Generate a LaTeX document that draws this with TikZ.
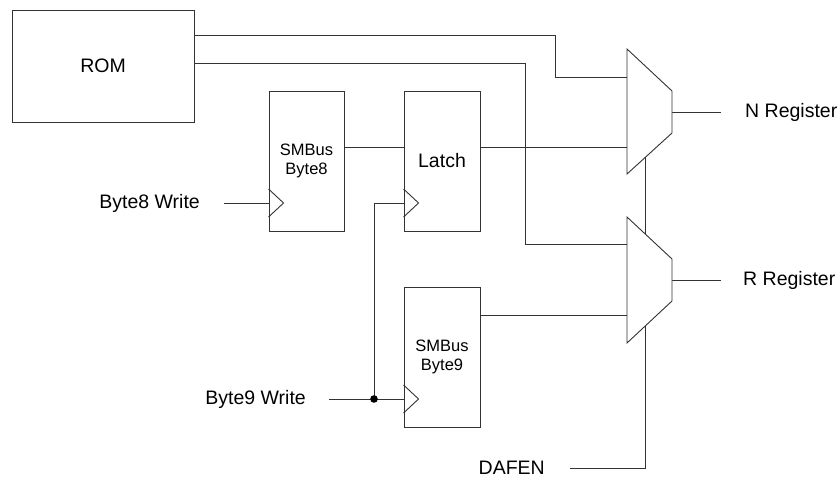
\documentclass[tikz,border=0pt]{standalone}
\usepackage{fontspec}
\setmainfont{Liberation Sans}
\usetikzlibrary{calc}
\begin{document}
\begin{tikzpicture}[x=1pt,y=-1pt,
  wire/.style={draw=black!80, line width=0.9pt},
  block/.style={draw=black!80, line width=0.9pt, rectangle, inner sep=0pt, align=center},
  lbl/.style={font=\fontsize{19.5}{22}\selectfont, inner sep=0pt},
  small/.style={font=\fontsize{16.5}{18.5}\selectfont, inner sep=0pt},
  muxshape/.style={draw=black!80, line width=0.9pt, fill=white}]
\useasboundingbox (0,0) rectangle (840,479);
% blocks
\node[block, minimum width=182pt, minimum height=112pt, lbl] (rom) at (103,66) {ROM};
\node[block, minimum width=75pt, minimum height=140pt, small] (s8) at (306.5,161) {SMBus\\Byte8};
\node[block, minimum width=76pt, minimum height=140pt, lbl] (latch) at (442,161) {Latch};
\node[block, minimum width=76pt, minimum height=140pt, small] (s9) at (442,357) {SMBus\\Byte9};
% clock inputs
\coordinate (s8clk) at (s8.west |- 0,203);
\coordinate (latchclk) at (latch.west |- 0,203);
\coordinate (s9clk) at (s9.west |- 0,399);
\foreach \c in {s8clk,latchclk,s9clk}
  \draw[wire] ($(\c)+(0,-14)$) -- ($(\c)+(15,0)$) -- ($(\c)+(0,14)$);
% mux ports
\coordinate (m1a) at (627,77);
\coordinate (m1b) at (627,147);
\coordinate (m1o) at (672,112);
\coordinate (m2a) at (627,244);
\coordinate (m2b) at (627,315);
\coordinate (m2o) at (672,280);
\coordinate (sel) at (645,150);
\coordinate (r1) at (194,35);
\coordinate (r2) at (194,63);
\coordinate (j) at (374,399);
% labels
\node[lbl, anchor=east] (b8w) at (200,203) {Byte8 Write};
\node[lbl, anchor=east] (b9w) at (306,399) {Byte9 Write};
\node[lbl, anchor=east] (dafen) at (545,468) {DAFEN};
\node[lbl, anchor=west] (nreg) at (745,112) {N Register};
\node[lbl, anchor=west] (rreg) at (743,280) {R Register};
% select line (drawn before the muxes so they hide it)
\draw[wire] (sel) |- ([xshift=25pt]dafen.east);
% wires
\draw[wire] (r1) -| ($(m1a)+(-72,0)$) -- (m1a);
\draw[wire] (r2) -| ($(m2a)+(-102,0)$) -- (m2a);
\draw[wire] (s8.east |- m1b) -- (latch.west |- m1b);
\draw[wire] (latch.east |- m1b) -- (m1b);
\draw[wire] (s9.east |- m2b) -- (m2b);
\draw[wire] ([xshift=24pt]b8w.east) -- (s8clk);
\draw[wire] ([xshift=23pt]b9w.east) -- (s9clk);
\draw[wire] (j) |- (latchclk);
\fill[black] (j) circle (3.8pt);
\draw[wire] (m1o) -- ([xshift=-24pt]nreg.west);
\draw[wire] (m2o) -- ([xshift=-22pt]rreg.west);
% muxes
\draw[muxshape] (627,49) -- (672,91) -- (672,133) -- (627,174) -- cycle;
\draw[muxshape] (627,217) -- (672,259) -- (672,301) -- (627,343) -- cycle;
\end{tikzpicture}
\end{document}
